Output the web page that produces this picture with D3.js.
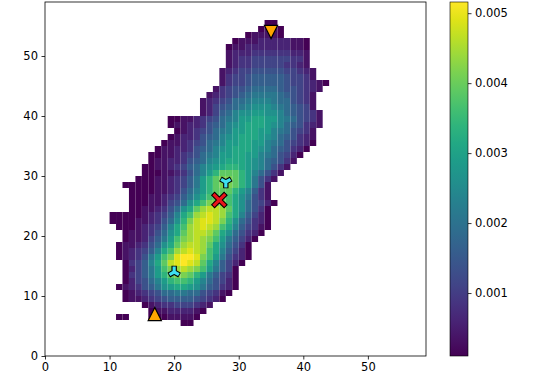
<!DOCTYPE html>
<html>
<head>
<meta charset="utf-8">
<script src="https://cdn.jsdelivr.net/npm/d3@7"></script>
<style>
  body { margin: 0; background: #fff; }
  text { font-family: "DejaVu Sans", sans-serif; font-size: 11.5px; fill: #000; }
</style>
</head>
<body>
<div id="chart"></div>
<script>
// density grid, one row per y bin: first x bin of the row, then one level per x bin
// levels 0-9,a-k (k = brightest), "." = empty bin
var rowY = [5, 6, 7, 8, 9, 10, 11, 12, 13, 14, 15, 16, 17, 18, 19, 20, 21, 22, 23, 24, 25,
  26, 27, 28, 29, 30, 31, 32, 33, 34, 35, 36, 37, 38, 39, 40, 41, 42, 43, 44, 45, 46, 47,
  48, 49, 50, 51, 52, 53, 54, 55];
var rowStart = [21, 11, 16, 15, 12, 12, 11, 12, 12, 12, 12, 11, 11, 11, 12, 12, 11, 10, 10, 13, 13,
  13, 13, 12, 14, 15, 15, 16, 16, 17, 18, 19, 20, 19, 19, 24, 24, 24, 25, 26, 27, 27, 27,
  28, 28, 28, 28, 29, 31, 33, 34];
var rowLevels = [
  "00",
  "00...00011110",
  "011222210",
  "01233444321",
  "0112345666654320",
  "01234577887754310",
  "0123568abccba865320",
  "024579bdeedb975420",
  "03468bdfggfdb86430",
  "02468beghihgeb8640",
  "03469cfijkjifc96420",
  "012358begjkkjgeb85320",
  "0123469cehijihec96420",
  "0112357acfhiihfca7530",
  "0112468beghihgeb86420",
  "0112357acfhiihfca75320",
  "000123469cehijihec964310",
  "0000112357adgijjigda75320",
  "00000123469cehijihec96420",
  "00112357acfhiihfca7530",
  "000112457acegggeca75420",
  "0001123468aceffeca8531",
  "00001123579bdfffdb9631",
  "000001123468bdfggfdb851",
  "0001123468bdfggfdb8531",
  "0001123579bdfffdb97531",
  "0011234679abcddcba97531",
  "0112235679abcccba976531",
  "00112345789bbccbb9875420",
  "0112235679abcccba9765320",
  "0112345789bbccbb98754320",
  "012235679abcccba9765321",
  "012345789bbccbb9875431",
  "0112235679abcccba9765321",
  "00112345789bbccbb9875431",
  "124679aabbaa9765431",
  "12456789aaa9876541",
  "123457789998775431",
  "12345678888765431",
  "13455677776554321",
  "13445666665443210",
  "134456666654431",
  "123445555544321",
  "1233444443321",
  "1233444444331",
  "1222333333221",
  "0112222222110",
  "011122222110",
  "011110",
  "0110",
  "00"
];
var levelBase = 0.0001, levelStep = 0.000253;

// marked points
var orangeUp = [[17, 7]];
var orangeDown = [[35, 54]];
var cyanUp = [[20, 14]];
var cyanDown = [[28, 29]];
var redCross = [[27, 26]];

var xTicks = [0, 10, 20, 30, 40, 50];
var yTicks = [0, 10, 20, 30, 40, 50];
var cbarTicks = [0.001, 0.002, 0.003, 0.004, 0.005];

var cells = [];
rowLevels.forEach(function(s, r) {
  for (var t = 0; t < s.length; t++) {
    if (s[t] === ".") continue;
    cells.push({x: rowStart[r] + t, y: rowY[r], v: levelBase + parseInt(s[t], 36) * levelStep});
  }
});

var svg = d3.select("#chart").append("svg")
  .attr("width", 538)
  .attr("height", 385);

var x = d3.scaleLinear().domain([0, 59]).range([45, 426]);
var y = d3.scaleLinear().domain([0, 59]).range([356, 2]);
var vExtent = d3.extent(cells, d => d.v);
var color = d3.scaleSequential(d3.interpolateViridis).domain(vExtent);

svg.append("g")
  .selectAll("rect")
  .data(cells)
  .enter()
  .append("rect")
  .attr("x", d => x(d.x))
  .attr("y", d => y(d.y + 1))
  .attr("width", d => x(d.x + 1) - x(d.x))
  .attr("height", d => y(d.y) - y(d.y + 1))
  .attr("fill", d => color(d.v));

// axes
svg.append("g")
  .attr("transform", "translate(0,356)")
  .call(d3.axisBottom(x).tickValues(xTicks).tickSize(3.5).tickPadding(3.5).tickFormat(d3.format("d")))
  .call(g => g.select(".domain").remove());
svg.append("g")
  .attr("transform", "translate(45,0)")
  .call(d3.axisLeft(y).tickValues(yTicks).tickSize(3.5).tickPadding(3.5).tickFormat(d3.format("d")))
  .call(g => g.select(".domain").remove());
svg.selectAll(".tick text").attr("font-size", null).attr("font-family", null);
svg.selectAll(".tick line").attr("stroke", "#000").attr("stroke-width", 0.8);

svg.append("rect")
  .attr("x", 45).attr("y", 2)
  .attr("width", 381).attr("height", 354)
  .attr("fill", "none")
  .attr("stroke", "#000")
  .attr("stroke-width", 0.8);

// markers
function triPath(up, r) {
  var c = Math.cos(Math.PI / 6) * r, s = Math.sin(Math.PI / 6) * r;
  var sg = up ? 1 : -1;
  return "M0,0L0," + (-sg * r) + "M0,0L" + (-c) + "," + (sg * s) + "M0,0L" + c + "," + (sg * s);
}
function drawTri(data, up) {
  [["#000", 5.4], ["#3ee0f0", 3.2]].forEach(function(st) {
    svg.append("g").selectAll("path")
      .data(data).enter().append("path")
      .attr("transform", d => "translate(" + x(d[0]) + "," + y(d[1]) + ")")
      .attr("d", triPath(up, st[1] > 4 ? 6.2 : 5.4))
      .attr("fill", "none")
      .attr("stroke", st[0])
      .attr("stroke-width", st[1])
      .attr("stroke-linejoin", "round");
  });
}
drawTri(cyanUp, true);
drawTri(cyanDown, false);

[["#000", 5.2, 6.6], ["#e8141b", 3.2, 5.9]].forEach(function(st) {
  var a = st[2];
  svg.append("g").selectAll("path")
    .data(redCross).enter().append("path")
    .attr("transform", d => "translate(" + x(d[0]) + "," + y(d[1]) + ")")
    .attr("d", "M" + (-a) + "," + (-a) + "L" + a + "," + a + "M" + (-a) + "," + a + "L" + a + "," + (-a))
    .attr("fill", "none")
    .attr("stroke", st[0])
    .attr("stroke-width", st[1]);
});

function drawTriangle(data, up) {
  var h = 6.6, sg = up ? 1 : -1;
  svg.append("g").selectAll("path")
    .data(data).enter().append("path")
    .attr("transform", d => "translate(" + x(d[0]) + "," + y(d[1]) + ")")
    .attr("d", "M0," + (-sg * h) + "L" + (-h) + "," + (sg * h) + "L" + h + "," + (sg * h) + "Z")
    .attr("fill", "#ffa500")
    .attr("stroke", "#000")
    .attr("stroke-width", 1.2);
}
drawTriangle(orangeUp, true);
drawTriangle(orangeDown, false);

// colorbar
var cb = d3.scaleLinear().domain(vExtent).range([356, 2]);
var grad = svg.append("defs").append("linearGradient")
  .attr("id", "cbgrad")
  .attr("x1", 0).attr("y1", 1).attr("x2", 0).attr("y2", 0);
d3.range(0, 1.0001, 0.05).forEach(function(t) {
  grad.append("stop").attr("offset", t).attr("stop-color", d3.interpolateViridis(t));
});
svg.append("rect")
  .attr("x", 450).attr("y", 2)
  .attr("width", 18).attr("height", 354)
  .attr("fill", "url(#cbgrad)")
  .attr("stroke", "#000")
  .attr("stroke-width", 0.6);
svg.append("g")
  .attr("transform", "translate(468,0)")
  .call(d3.axisRight(cb).tickValues(cbarTicks).tickSize(3.5).tickPadding(3.5).tickFormat(d3.format(".3f")))
  .call(g => g.select(".domain").remove())
  .call(g => g.selectAll("text").attr("font-size", null).attr("font-family", null))
  .call(g => g.selectAll("line").attr("stroke", "#000").attr("stroke-width", 0.8));
</script>
</body>
</html>
